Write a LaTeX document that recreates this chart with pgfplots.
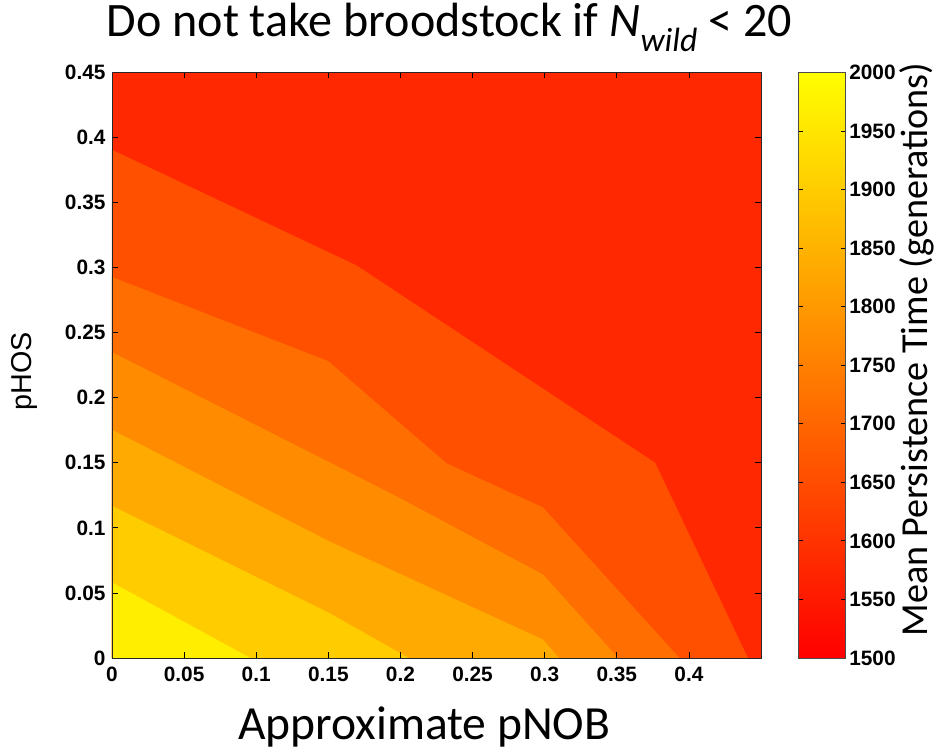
\documentclass[border=0pt]{standalone}
\usepackage{pgfplots}
\pgfplotsset{compat=1.18}
\usepackage{fontspec}
\setmainfont{Carlito}
\newfontfamily\arialfont{Liberation Sans}

% contour band colours, lowest (red) to highest (yellow) persistence time
\definecolor{lvA}{RGB}{255,40,0}
\definecolor{lvB}{RGB}{255,80,0}
\definecolor{lvC}{RGB}{255,110,0}
\definecolor{lvD}{RGB}{255,140,0}
\definecolor{lvE}{RGB}{255,170,0}
\definecolor{lvF}{RGB}{255,204,0}
\definecolor{lvG}{RGB}{255,238,0}

\begin{document}
\begin{tikzpicture}
\begin{axis}[
  name=ax,
  scale only axis, width=655pt, height=591pt,
  xmin=0, xmax=0.45, ymin=0, ymax=0.45,
  xtick={0,0.05,0.1,0.15,0.2,0.25,0.3,0.35,0.4},
  ytick={0,0.05,0.1,0.15,0.2,0.25,0.3,0.35,0.4,0.45},
  tick align=inside, major tick length=6pt,
  tick style={black, line width=0.8pt},
  axis line style={line width=0.8pt, black!85},
  axis on top,
  ticklabel style={font=\arialfont\bfseries\fontsize{21}{21}\selectfont},
  /pgf/number format/assume math mode=true,
  xticklabel style={/pgf/number format/fixed, /pgf/number format/precision=2, yshift=-5pt},
  yticklabel style={/pgf/number format/fixed, /pgf/number format/precision=2, xshift=-3pt},
  title={Do not take broodstock if {\itshape N}\textsubscript{\itshape wild} < 20},
  title style={font=\fontsize{48.5}{48.5}\selectfont, at={(rel axis cs:0.52,1.0508)}, anchor=base},
  xlabel={Approximate pNOB},
  xlabel style={font=\fontsize{48}{48}\selectfont, at={(rel axis cs:0.481,-0.1387)}, anchor=base},
  ylabel={pHOS},
  ylabel style={font=\arialfont\fontsize{29}{29}\selectfont, at={(rel axis cs:-0.124,0.49)}, anchor=base},
  colorbar,
  colorbar/width=48pt,
  colormap={autumn}{rgb255=(255,0,0) rgb255=(255,255,0)},
  point meta min=1500, point meta max=2000,
  colorbar style={
    at={(parent axis.north east)}, anchor=north west, xshift=29pt,
    ytick={1500,1550,1600,1650,1700,1750,1800,1850,1900,1950,2000},
    yticklabel style={font=\arialfont\bfseries\fontsize{21}{21}\selectfont,
      /pgf/number format/assume math mode=true,
      /pgf/number format/1000 sep={}},
    tick align=inside, major tick length=5pt,
    tick style={black, line width=0.8pt},
    axis line style={line width=0.8pt, black!70},
    ylabel={Mean Persistence Time (generations)},
    ylabel style={font=\fontsize{38.5}{38.5}\selectfont, at={(rel axis cs:2.71,0.527)}, anchor=base},
  },
]
% background band (lowest level)
\addplot[fill=lvA, draw=none] coordinates {(0,0) (0.45,0) (0.45,0.45) (0,0.45)};
% each following band fills the region below its lower contour line
\addplot[fill=lvB, draw=none] coordinates {
  (0,0.3905) (0.1504,0.3117) (0.1695,0.3017) (0.3766,0.150) (0.4409,0) (0,0)};
\addplot[fill=lvC, draw=none] coordinates {
  (0,0.2928) (0.1498,0.2282) (0.2321,0.1495) (0.2988,0.1157) (0.3935,0) (0,0)};
\addplot[fill=lvD, draw=none] coordinates {
  (0,0.2350) (0.1944,0.1259) (0.2988,0.0642) (0.3510,0) (0,0)};
\addplot[fill=lvE, draw=none] coordinates {
  (0,0.1754) (0.1500,0.0900) (0.2988,0.0142) (0.3100,0) (0,0)};
\addplot[fill=lvF, draw=none] coordinates {
  (0,0.1170) (0.1500,0.0350) (0.2060,0) (0,0)};
\addplot[fill=lvG, draw=none] coordinates {
  (0,0.0581) (0.0960,0) (0,0)};
\end{axis}
\path[use as bounding box] ([shift={(-113pt,-92pt)}]ax.south west) rectangle ([shift={(824pt,663pt)}]ax.south west);
\end{tikzpicture}
\end{document}
